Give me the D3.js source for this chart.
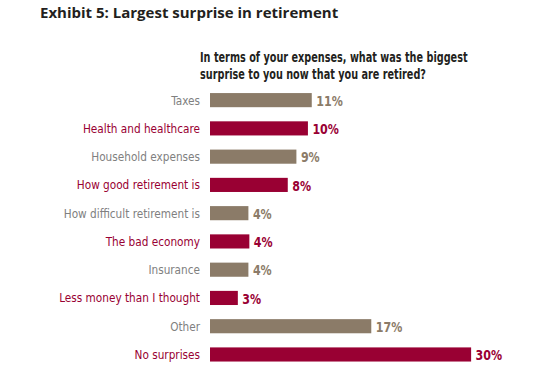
<!DOCTYPE html>
<html><head><meta charset="utf-8">
<script src="https://cdn.jsdelivr.net/npm/d3@7"></script>
<style>body{margin:0;background:#fff}</style>
</head><body>
<script>
const categories = ["Taxes","Health and healthcare","Household expenses","How good retirement is","How difficult retirement is","The bad economy","Insurance","Less money than I thought","Other","No surprises"];
const values = [10.6,10.2,9.0,8.1,4.0,4.1,4.0,2.9,16.8,27.2];
const valueLabels = ["11%","10%","9%","8%","4%","4%","4%","3%","17%","30%"];
const highlight = [false,true,false,true,false,true,false,true,false,true];
const title = "Exhibit 5: Largest surprise in retirement";
const subtitle = ["In terms of your expenses, what was the biggest","surprise to you now that you are retired?"];

const W=547,H=367;
const svg=d3.select("body").append("svg").attr("width",W).attr("height",H);
const narrow='"Liberation Sans Narrow","DejaVu Sans Condensed","Arial Narrow",sans-serif';
const red="#990033", tan="#8b7b68", grey="#808080";

function squeeze(sel,f){
  sel.each(function(){const L=this.getComputedTextLength();
    d3.select(this).attr("textLength",L*f).attr("lengthAdjust","spacingAndGlyphs");});
}

svg.append("text").attr("x",40).attr("y",18).text(title)
  .attr("font-family",'"Open Sans","DejaVu Sans",sans-serif').attr("font-weight","bold")
  .attr("font-size",15).attr("fill","#231f20");
const sub=svg.selectAll("text.sub").data(subtitle).join("text").attr("class","sub")
  .attr("x",200).attr("y",(d,i)=>62+i*17).attr("font-family",narrow).attr("font-weight","bold")
  .attr("font-size",14).attr("fill","#231f20").text(d=>d);
squeeze(sub,0.77);

const x=d3.scaleLinear().domain([0,30]).range([210,210+9.6*30]);
const y=d3.scaleBand().domain(categories).range([86,368.6]).paddingInner(0.5).paddingOuter(0.25);

const g=svg.append("g");
g.selectAll("rect").data(categories).join("rect")
  .attr("x",x(0)).attr("y",d=>y(d)).attr("height",y.bandwidth())
  .attr("width",(d,i)=>x(values[i])-x(0)).attr("fill",(d,i)=>highlight[i]?red:tan);

const cats=g.selectAll("text.cat").data(categories).join("text").attr("class","cat")
  .attr("x",200).attr("y",d=>y(d)+y.bandwidth()/2).attr("dy","0.35em").attr("text-anchor","end")
  .attr("font-family",narrow).attr("font-size",12.5)
  .attr("fill",(d,i)=>highlight[i]?red:grey).text(d=>d);
squeeze(cats,0.935);

const vals=g.selectAll("text.val").data(categories).join("text").attr("class","val")
  .attr("x",(d,i)=>x(values[i])+4.5).attr("y",d=>y(d)+y.bandwidth()/2).attr("dy","0.4em")
  .attr("font-family",narrow).attr("font-weight","bold").attr("font-size",14)
  .attr("fill",(d,i)=>highlight[i]?red:tan).text((d,i)=>valueLabels[i]);
squeeze(vals,0.88);
</script>
</body></html>
